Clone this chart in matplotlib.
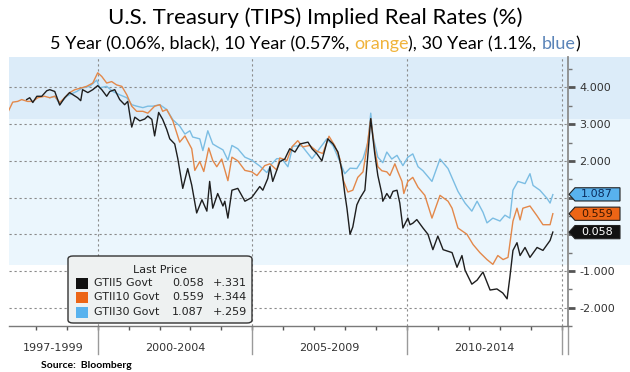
import numpy as np
import matplotlib.pyplot as plt
import matplotlib.transforms as mtransforms
from matplotlib.patches import FancyBboxPatch, Polygon, Rectangle

# 5 year TIPS (black)
t5 = [1997.70, 1997.80, 1997.90, 1998.03, 1998.19, 1998.35, 1998.45, 1998.61, 1998.77, 1998.93,
      1999.09, 1999.35, 1999.45, 1999.51, 1999.68, 1999.84, 2000.00, 2000.13, 2000.29, 2000.39,
      2000.55, 2000.71, 2000.87, 2000.97, 2001.10, 2001.20, 2001.36, 2001.52, 2001.62, 2001.75,
      2001.84, 2001.97, 2002.10, 2002.23, 2002.33, 2002.49, 2002.59, 2002.75, 2002.91, 2003.04,
      2003.20, 2003.37, 2003.53, 2003.62, 2003.72, 2003.88, 2004.05, 2004.11, 2004.21, 2004.34,
      2004.53, 2004.76, 2004.98, 2005.24, 2005.34, 2005.50, 2005.57, 2005.66, 2005.89, 2006.05,
      2006.21, 2006.38, 2006.54, 2006.80, 2006.93, 2007.09, 2007.25, 2007.44, 2007.61, 2007.77,
      2007.90, 2007.99, 2008.06, 2008.16, 2008.25, 2008.38, 2008.48, 2008.64, 2008.74, 2008.83,
      2008.96, 2009.06, 2009.19, 2009.22, 2009.35, 2009.45, 2009.55, 2009.68, 2009.77, 2009.87,
      2010.03, 2010.10, 2010.19, 2010.32, 2010.52, 2010.68, 2010.84, 2011.00, 2011.17, 2011.46,
      2011.62, 2011.78, 2011.88, 2012.10, 2012.27, 2012.46, 2012.69, 2012.91, 2013.10, 2013.24,
      2013.33, 2013.43, 2013.56, 2013.66, 2013.82, 2013.98, 2014.21, 2014.40, 2014.63, 2014.72]
y5 = [3.67, 3.72, 3.59, 3.76, 3.76, 3.91, 3.94, 3.89, 3.52, 3.72,
      3.86, 3.72, 3.64, 3.94, 3.86, 3.94, 4.05, 3.94, 3.76, 3.89,
      3.94, 3.67, 3.53, 3.62, 2.92, 3.19, 3.09, 3.14, 3.22, 3.13,
      2.68, 3.32, 3.13, 2.86, 2.60, 2.46, 2.06, 1.25, 1.79, 1.34,
      0.58, 0.94, 0.63, 1.44, 0.71, 1.11, 0.77, 0.90, 0.44, 1.20,
      1.25, 0.90, 1.00, 1.30, 1.20, 1.52, 1.84, 1.44, 1.98, 2.05,
      2.33, 2.24, 2.46, 2.51, 2.33, 2.19, 2.00, 2.60, 2.46, 2.24,
      1.73, 1.11, 0.71, 0.00, 0.20, 0.80, 0.98, 1.20, 2.19, 3.15,
      2.19, 1.60, 1.10, 0.90, 1.11, 0.98, 1.17, 1.20, 0.85, 0.17,
      0.44, 0.26, 0.30, 0.40, 0.17, 0.00, -0.42, -0.05, -0.42, -0.50,
      -0.90, -0.58, -0.98, -1.36, -1.25, -1.03, -1.52, -1.49, -1.60, -1.76,
      -1.17, -0.44, -0.23, -0.58, -0.36, -0.63, -0.36, -0.44, -0.17, 0.06]

# 10 year TIPS (orange)
t10 = [1997.12, 1997.25, 1997.41, 1997.54, 1997.73, 1997.90, 1998.06, 1998.28, 1998.45, 1998.61,
       1998.77, 1998.93, 1999.09, 1999.26, 1999.48, 1999.64, 1999.84, 2000.00, 2000.13, 2000.29,
       2000.45, 2000.61, 2000.78, 2000.94, 2001.10, 2001.26, 2001.46, 2001.62, 2001.84, 2002.01,
       2002.10, 2002.23, 2002.43, 2002.65, 2002.82, 2003.04, 2003.14, 2003.30, 2003.43, 2003.59,
       2003.72, 2003.85, 2004.01, 2004.21, 2004.34, 2004.53, 2004.76, 2004.98, 2005.15, 2005.40,
       2005.57, 2005.79, 2005.89, 2006.12, 2006.28, 2006.47, 2006.63, 2006.86, 2007.09, 2007.28,
       2007.48, 2007.67, 2007.83, 2007.93, 2008.09, 2008.25, 2008.41, 2008.58, 2008.71, 2008.83,
       2008.96, 2009.06, 2009.19, 2009.35, 2009.45, 2009.61, 2009.71, 2009.84, 2009.90, 2010.03,
       2010.19, 2010.36, 2010.58, 2010.81, 2011.07, 2011.33, 2011.46, 2011.65, 2011.94, 2012.14,
       2012.36, 2012.59, 2012.78, 2012.94, 2013.11, 2013.27, 2013.43, 2013.56, 2013.66, 2013.75,
       2013.98, 2014.21, 2014.40, 2014.63, 2014.72]
y10 = [3.37, 3.60, 3.62, 3.67, 3.62, 3.62, 3.72, 3.76, 3.72, 3.76,
       3.59, 3.72, 3.86, 3.94, 3.99, 4.03, 4.12, 4.40, 4.30, 4.12,
       4.16, 4.07, 4.03, 3.80, 3.49, 3.35, 3.35, 3.30, 3.49, 3.53,
       3.35, 3.40, 3.09, 2.51, 2.68, 2.33, 1.74, 1.98, 1.71, 2.35,
       2.01, 1.84, 2.05, 1.46, 2.10, 2.00, 1.74, 1.70, 1.60, 1.87,
       1.92, 1.75, 2.08, 2.01, 2.38, 2.55, 2.38, 2.42, 2.26, 2.20,
       2.67, 2.41, 2.06, 1.50, 1.15, 1.20, 1.55, 1.70, 2.38, 3.15,
       2.30, 1.84, 1.73, 1.70, 1.60, 1.92, 1.70, 1.44, 1.11, 1.44,
       1.55, 1.28, 1.06, 0.44, 1.06, 0.90, 0.71, 0.17, 0.00, -0.28,
       -0.50, -0.69, -0.82, -0.58, -0.69, -0.63, 0.36, 0.71, 0.39, 0.71,
       0.77, 0.50, 0.26, 0.26, 0.56]

# 30 year TIPS (blue)
t30 = [1998.45, 1998.61, 1998.77, 1999.00, 1999.16, 1999.32, 1999.51, 1999.74, 1999.97, 2000.06,
       2000.29, 2000.49, 2000.71, 2000.94, 2001.10, 2001.26, 2001.46, 2001.62, 2001.78, 2002.01,
       2002.23, 2002.43, 2002.65, 2002.82, 2002.98, 2003.07, 2003.30, 2003.40, 2003.56, 2003.72,
       2003.88, 2004.05, 2004.21, 2004.34, 2004.53, 2004.76, 2004.98, 2005.24, 2005.47, 2005.63,
       2005.79, 2005.95, 2006.15, 2006.31, 2006.60, 2006.76, 2006.93, 2007.09, 2007.41, 2007.61,
       2007.83, 2007.99, 2008.16, 2008.38, 2008.58, 2008.74, 2008.83, 2008.90, 2009.06, 2009.22,
       2009.35, 2009.51, 2009.68, 2009.87, 2010.03, 2010.19, 2010.36, 2010.52, 2010.81, 2011.07,
       2011.33, 2011.65, 2011.88, 2012.10, 2012.27, 2012.46, 2012.59, 2012.78, 2013.01, 2013.17,
       2013.33, 2013.43, 2013.59, 2013.82, 2013.98, 2014.08, 2014.30, 2014.53, 2014.63, 2014.72]
y30 = [3.72, 3.76, 3.55, 3.76, 3.83, 3.89, 3.99, 4.03, 4.20, 3.99,
       4.03, 3.89, 3.80, 3.72, 3.53, 3.49, 3.45, 3.49, 3.49, 3.53,
       3.40, 3.12, 2.95, 2.73, 2.82, 2.65, 2.60, 2.28, 2.82, 2.46,
       2.38, 2.30, 2.02, 2.42, 2.33, 2.10, 2.02, 1.86, 1.68, 1.92,
       2.06, 2.06, 1.84, 2.40, 2.41, 2.24, 2.06, 2.24, 2.60, 2.41,
       1.98, 1.65, 1.80, 1.79, 2.06, 2.51, 3.30, 2.68, 2.10, 1.95,
       2.24, 2.05, 2.15, 1.87, 2.10, 2.19, 1.84, 1.73, 1.44, 2.05,
       1.79, 1.17, 0.85, 0.63, 0.90, 0.60, 0.31, 0.44, 0.36, 0.52,
       0.44, 1.20, 1.44, 1.38, 1.65, 1.33, 1.20, 0.98, 0.85, 1.08]

names = ["GTII5 Govt", "GTII10 Govt", "GTII30 Govt"]
last_price = [0.058, 0.559, 1.087]
changes = ["+.331", "+.344", "+.259"]
periods = ["1997-1999", "2000-2004", "2005-2009", "2010-2014"]
period_edges = [1997, 2000, 2005, 2010, 2015]
yticks = [-2, -1, 0, 1, 2, 3, 4]

line_colors = ["#1e1e1e", "#e3884a", "#7bbde3"]
box_colors = ["#111111", "#ec6516", "#58b2ee"]
tag_text = ["white", "#3a1600", "#0b2d5e"]

W, H = 630, 372
fig = plt.figure(figsize=(W / 100, H / 100), dpi=100)


def fx(px):
    return px / W


def fy(py):
    return 1 - py / H


ax_l, ax_r, ax_t, ax_b = 9, 568, 57, 326
ax = fig.add_axes([fx(ax_l), fy(ax_b), (ax_r - ax_l) / W, (ax_b - ax_t) / H])
ax.set_xlim(1997.13, 2015.21)
ax.set_ylim(-2.38, 4.83)
ax.set_facecolor("white")

# shaded bands, running under the right-hand scale as well
ext = (W - ax_l) / (ax_r - ax_l)
ax.axhspan(3.15, 4.83, xmin=0, xmax=ext, color="#dcecf9", lw=0, clip_on=False, zorder=0)
ax.axhspan(-0.85, 3.15, xmin=0, xmax=ext, color="#ebf6fd", lw=0, clip_on=False, zorder=0)

for v in yticks:
    ax.axhline(v, color="#8a8a8a", lw=0.8, ls=(0, (2, 2.5)), zorder=1)
for e in period_edges[1:]:
    ax.axvline(e, color="#8a8a8a", lw=0.8, ls=(0, (2, 2.5)), zorder=1)

ax.plot(t30, y30, color=line_colors[2], lw=1.0, zorder=3)
ax.plot(t10, y10, color=line_colors[1], lw=1.0, zorder=4)
ax.plot(t5, y5, color=line_colors[0], lw=1.0, zorder=5)

for s in ["top", "left"]:
    ax.spines[s].set_visible(False)
ax.spines["right"].set_color("#8c8c8c")
ax.spines["right"].set_linewidth(1.3)
ax.spines["bottom"].set_color("#7a7a7a")
ax.spines["bottom"].set_linewidth(1.0)

ax.yaxis.tick_right()
ax.set_yticks(yticks)
ax.set_yticklabels(["" if v in (0, 1) else f"{v:.3f}" for v in yticks])
ax.set_yticks(np.arange(-2.5, 5.0, 0.5), minor=True)
ax.tick_params(axis="y", which="major", length=5, width=2, color="#555555",
               labelsize=8, labelcolor="#333333", pad=3)
ax.tick_params(axis="y", which="minor", length=3, width=1, color="#777777")
ax.set_xticks(range(1998, 2016))
ax.set_xticklabels([])
ax.tick_params(axis="x", length=3, width=1, color="#555555")

# period separators and labels under the axis
xtr = mtransforms.blended_transform_factory(ax.transData, ax.transAxes)
for e in period_edges[1:]:
    ax.plot([e, e], [0, -0.105], color="#9a9a9a", lw=1, transform=xtr, clip_on=False)
ax.plot([2015.21, 2015.21], [0, -0.105], color="#9a9a9a", lw=1, transform=xtr, clip_on=False)
for i, lab in enumerate(periods):
    lo = max(period_edges[i], 1997.13)
    ax.text((lo + period_edges[i + 1]) / 2, -0.082, lab, transform=xtr, ha="center", va="center",
            fontsize=8, color="#333333")

# price tags on the right scale
ttr = mtransforms.blended_transform_factory(fig.transFigure, ax.transData)
h = 0.18
for v, fc, tc in zip(last_price, box_colors, tag_text):
    pts = [(fx(569), v), (fx(575), v + h), (fx(620), v + h), (fx(620), v - h), (fx(575), v - h)]
    fig.patches.append(Polygon(pts, closed=True, transform=ttr, facecolor=fc,
                               edgecolor="#222222", lw=0.8, zorder=6))
    fig.text(fx(597), v, f"{v:.3f}", transform=ttr, ha="center", va="center",
             fontsize=8, color=tc, zorder=7)

# legend box
fig.patches.append(FancyBboxPatch((fx(68), fy(323)), fx(252) - fx(68), fy(256) - fy(323),
                                  boxstyle="round,pad=0,rounding_size=0.008",
                                  transform=fig.transFigure, facecolor="#eef1f1",
                                  edgecolor="#333333", lw=1.0, zorder=6))
fig.text(fx(160), fy(270), "Last Price", ha="center", va="center", fontsize=8,
         color="#222222", zorder=7)
for i, (nm, lp, ch) in enumerate(zip(names, last_price, changes)):
    yy = 283 + i * 14.5
    fig.patches.append(Rectangle((fx(76), fy(yy + 5.5)), fx(12), 11 / H, transform=fig.transFigure,
                                 facecolor=box_colors[i], edgecolor="none", zorder=7))
    fig.text(fx(94), fy(yy), nm, ha="left", va="center", fontsize=8, color="#222222", zorder=7)
    fig.text(fx(172), fy(yy), f"{lp:.3f}", ha="left", va="center", fontsize=8,
             color="#222222", zorder=7)
    fig.text(fx(213), fy(yy), ch, ha="left", va="center", fontsize=8, color="#222222", zorder=7)

# titles
fig.text(0.5, fy(18), "U.S. Treasury (TIPS) Implied Real Rates (%)", ha="center", va="center",
         fontsize=16, family="Lato", color="black")
pieces = ["5 Year (0.06%, black), 10 Year (0.57%, ", "orange", "), 30 Year (1.1%, ", "blue", ")"]
piece_colors = ["black", "#f0b43c", "black", "#5b84b8", "black"]
renderer = fig.canvas.get_renderer()
widths = []
for p in pieces:
    tt = fig.text(0, 0, p, fontsize=13, family="Lato")
    widths.append(tt.get_window_extent(renderer).width)
    tt.remove()
x0 = W / 2 - sum(widths) / 2
for p, c, w in zip(pieces, piece_colors, widths):
    fig.text(fx(x0), fy(44), p, ha="left", va="center", fontsize=13, family="Lato", color=c)
    x0 += w

fig.text(fx(41), fy(365), "Source:  Bloomberg", ha="left", va="center", fontsize=7.5,
         family="Lato", fontweight="bold", color="black")

fig.savefig("out.png", dpi=100)
